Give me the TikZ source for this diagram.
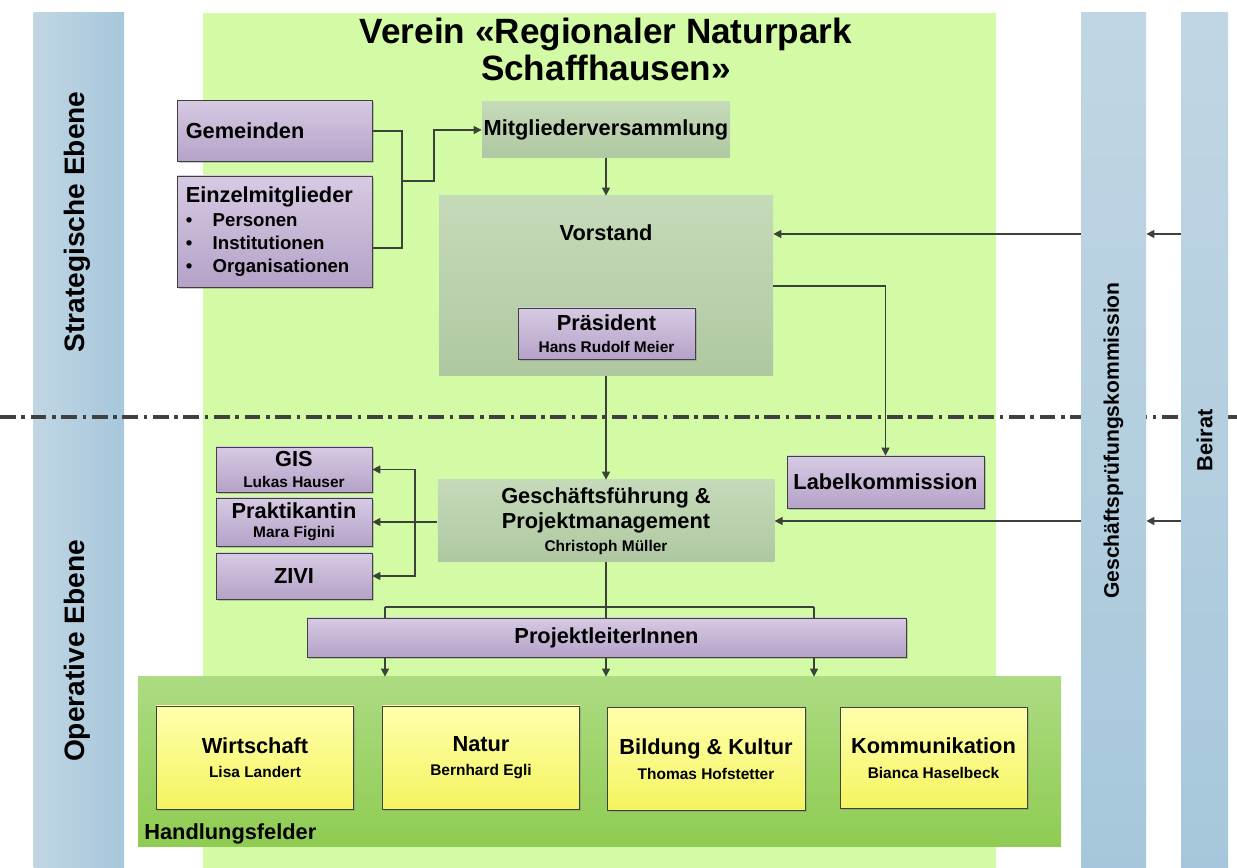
\documentclass[tikz,border=0pt]{standalone}
\usepackage{fontspec}
\setmainfont{Liberation Sans}
\usetikzlibrary{arrows.meta,shadows}

\definecolor{bggreen}{RGB}{211,251,166}
\definecolor{barL}{RGB}{193,214,228}
\definecolor{barR}{RGB}{166,199,219}
\definecolor{unitT}{RGB}{197,218,185}
\definecolor{unitB}{RGB}{175,200,161}
\definecolor{lilaT}{RGB}{215,202,227}
\definecolor{lilaB}{RGB}{180,162,200}
\definecolor{gelbT}{RGB}{255,255,172}
\definecolor{gelbB}{RGB}{244,244,96}
\definecolor{feldT}{RGB}{172,219,130}
\definecolor{feldB}{RGB}{143,204,82}
\definecolor{strich}{RGB}{58,66,58}

\newcommand{\gross}{\fontsize{12.4}{14}\selectfont\bfseries}
\newcommand{\pname}[1]{{\fontsize{8.8}{10.5}\selectfont #1}}

\begin{document}
\begin{tikzpicture}[auto,scale=1.0,font=\gross]
        \tikzstyle{bar}=[rectangle,top color=barL,bottom color=barR,inner sep=0pt]
        \tikzstyle{item}=[rectangle,draw=black!75,top color=lilaT,bottom color=lilaB,align=center,inner sep=0pt,
                          drop shadow={shadow xshift=0.9pt,shadow yshift=-0.9pt,opacity=0.4}]
        \tikzstyle{unit}=[rectangle,top color=unitT,bottom color=unitB,align=center,inner sep=0pt]
        \tikzstyle{field}=[rectangle,draw=black!75,top color=gelbT,bottom color=gelbB,align=center,inner sep=0pt,
                           minimum width=3.95cm,minimum height=2.06cm,
                           drop shadow={shadow xshift=0.9pt,shadow yshift=-0.9pt,opacity=0.4}]
        \tikzstyle{line}=[strich,line width=0.7pt]
        \tikzstyle{link}=[line,-{Triangle[length=4.6pt,width=4.6pt]}]
        \useasboundingbox (0,0) rectangle (24.74,17.36);
        % background areas
        \fill [bggreen] (4.06,0) rectangle (19.92,17.1);
        \node [rectangle,left color=barL,right color=barR,minimum width=1.81cm,minimum height=17.1cm,inner sep=0pt] (ebene) at (1.575,8.55) {};
        \draw [line width=2.2pt,black!75,dash pattern=on 9pt off 3.2pt on 2pt off 3.2pt] (0,9.02) -- (24.74,9.02);
        \node [rotate=90,font=\fontsize{16}{18}\selectfont\bfseries] (strat) at (1.55,12.92) {Strategische Ebene};
        \node [rotate=90,font=\fontsize{16}{18}\selectfont\bfseries] (oper) at (1.55,4.34) {Operative Ebene};
        \node [bar,rotate=90,minimum width=17.1cm,minimum height=1.3cm,font=\fontsize{12}{14}\selectfont\bfseries] (gpk) at (22.27,8.55) {Geschäftsprüfungskommission};
        \node [bar,rotate=90,minimum width=17.1cm,minimum height=0.94cm] (beirat) at (24.09,8.55) {Beirat};
        % title
        \node [align=center,font=\fontsize{20}{21}\selectfont\bfseries] (titel) at (12.12,16.37) {Verein «Regionaler Naturpark\\Schaffhausen»};
        % strategic level
        \node [item,align=left,text width=3.57cm,minimum width=3.91cm,minimum height=1.22cm,inner xsep=0.17cm] (gem) at (5.5,14.74) {Gemeinden};
        \node [item,align=left,text width=3.57cm,minimum width=3.91cm,minimum height=2.22cm,inner xsep=0.17cm,
               font=\fontsize{12.4}{13}\selectfont\bfseries] (einz) at (5.5,12.73) {Einzelmitglieder\\[0.7pt]
            {\fontsize{10.6}{13}\selectfont\makebox[0.54cm][l]{\textbullet}Personen}\\
            {\fontsize{10.6}{13}\selectfont\makebox[0.54cm][l]{\textbullet}Institutionen}\\
            {\fontsize{10.6}{13}\selectfont\makebox[0.54cm][l]{\textbullet}Organisationen}};
        \node [unit,minimum width=4.96cm,minimum height=1.12cm] (mitglied) at (12.12,14.76) {Mitgliederversammlung};
        \node [unit,minimum width=6.68cm,minimum height=3.6cm] (vorstand) at (12.12,11.64) {};
        \node (vorstandtitel) at (12.12,12.7) {Vorstand};
        \node [item,minimum width=3.54cm,minimum height=1.02cm] (praes) at (12.13,10.69) {Präsident\\[-1.5pt]\pname{Hans Rudolf Meier}};
        % operative level
        \node [item,minimum width=3.94cm,minimum height=1.04cm] (label) at (17.71,7.72) {Labelkommission};
        \node [unit,minimum width=6.73cm,minimum height=1.64cm] (gf) at (12.12,6.94) {Geschäftsführung \&\\Projektmanagement\\[-1pt]\pname{Christoph Müller}};
        \node [item,minimum width=3.12cm,minimum height=0.9cm] (gis) at (5.88,7.97) {GIS\\[-2pt]\pname{Lukas Hauser}};
        \node [item,minimum width=3.12cm,minimum height=0.96cm] (prakt) at (5.88,6.92) {Praktikantin\\[-3pt]\pname{Mara Figini}};
        \node [item,minimum width=3.12cm,minimum height=0.92cm] (zivi) at (5.88,5.84) {ZIVI};
        \node [item,minimum width=11.98cm,minimum height=0.78cm] (pl) at (12.13,4.61) {ProjektleiterInnen};
        \node [rectangle,top color=feldT,bottom color=feldB,minimum width=18.46cm,minimum height=3.4cm] (hf) at (11.99,2.12) {};
        \node [anchor=west,inner sep=0pt] (hftitel) at (2.88,0.68) {Handlungsfelder};
        \node [field] (wirt) at (5.1,2.21) {Wirtschaft\\[0pt]\pname{Lisa Landert}};
        \node [field] (natur) at (9.62,2.21) {Natur\\[0pt]\pname{Bernhard Egli}};
        \node [field,minimum width=3.96cm] (bild) at (14.12,2.18) {Bildung \& Kultur\\[0pt]\pname{Thomas Hofstetter}};
        \node [field,minimum width=3.74cm,minimum height=2.02cm] (komm) at (18.67,2.2) {Kommunikation\\[0pt]\pname{Bianca Haselbeck}};
        % connectors
        \coordinate (sammel) at (8.04,13.74);
        \draw [line] (gem.east) -| (sammel);
        \draw [line] (sammel) |- ([yshift=-0.33cm]einz.east);
        \draw [link] (sammel) -- ++(0.64,0) |- (mitglied.west);
        \draw [link] (mitglied) -- (vorstand);
        \draw [link] (vorstand) -- (gf);
        \draw [link] (vorstand.east) -| (label.north);
        \coordinate (vin) at ([yshift=1.04cm]vorstand.east);
        \draw [link] (gpk.north |- vin) -- (vin);
        \draw [link] (beirat.north |- vin) -- (gpk.south |- vin);
        \draw [link] (gpk.north |- gf.east) -- (gf.east);
        \draw [link] (beirat.north |- gf.east) -- (gpk.south |- gf.east);
        \coordinate (verteil) at (8.3,6.92);
        \draw [link] (gf.west |- prakt.east) -- (prakt.east);
        \draw [link] (verteil |- gis.east) -- (gis.east);
        \draw [link] (verteil |- gis.east) -- (verteil |- zivi.east) -- (zivi.east);
        \foreach \x [count=\i] in {7.7,12.12,16.28} {
            \coordinate (gabel\i) at (\x,5.22);
            \draw [line] (gabel\i) -- (gabel\i |- pl.north);
            \draw [link] (gabel\i |- pl.south) -- (gabel\i |- hf.north);
        }
        \draw [line] (gabel1) -- (gabel3);
        \draw [line] (gf) -- (gabel2);
    \end{tikzpicture}
\end{document}
